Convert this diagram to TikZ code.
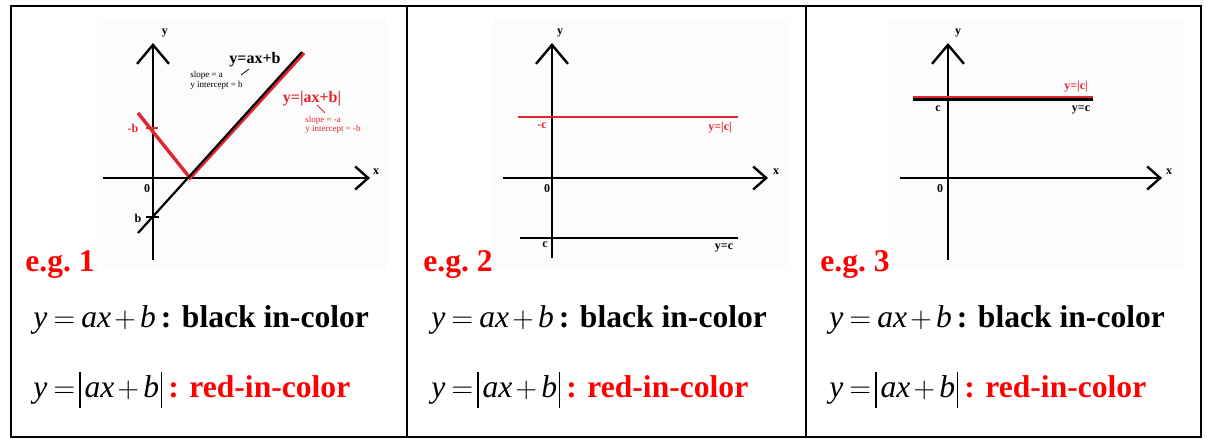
\documentclass[tikz,border=0pt]{standalone}
\usepackage{fontspec}
\setmainfont{Liberation Serif}
\usepackage{tikz}
\usetikzlibrary{arrows.meta,positioning}
\definecolor{plotred}{RGB}{226,38,48}
\newcommand\absbar{\rule[-5.5pt]{0.6pt}{18pt}}
\newcommand\lineeq{\textit{y}\hspace{3pt}$=$\hspace{3pt}\textit{ax}\hspace{1.5pt}$+$\hspace{2pt}\textit{b}\hspace{2.5pt}\textbf{: black in-color}}
\newcommand\abseq{\textit{y}\hspace{3pt}$=$\hspace{2pt}\absbar\hspace{2pt}\textit{ax}\hspace{1.5pt}$+$\hspace{2pt}\textit{b}\hspace{1pt}\absbar\hspace{3pt}\textbf{\color{red}: red-in-color}}

\begin{document}
\begin{tikzpicture}[
    x=0.5pt,y=-0.5pt,
    frame/.style={line width=1pt},
    xaxis/.style={line width=1.2pt,-{Straight Barb[length=6.5pt,width=11.5pt]}},
    yaxis/.style={line width=1.2pt,-{Straight Barb[length=9.5pt,width=16pt]}},
    lbl/.style={font=\fontsize{6}{7}\selectfont\bfseries,inner sep=0pt},
    tiny/.style={font=\fontsize{4.5}{5}\selectfont,inner sep=0pt,anchor=west},
    eg/.style={font=\fontsize{15.8}{18}\selectfont\bfseries,text=red,inner sep=0pt,anchor=base west},
    row/.style={font=\fontsize{15.8}{18}\selectfont,inner sep=0pt,anchor=base west}
]
\useasboundingbox (0,0) rectangle (1207,439);
% table
\draw[frame] (11,6) rectangle (1201,437);
\draw[frame] (407,6) -- (407,437);
\draw[frame] (806,6) -- (806,437);
\fill[black!1] (97,18) rectangle (387,270);
\fill[black!1] (493,18) rectangle (790,270);
\fill[black!1] (888,18) rectangle (1185,270);

% e.g. 1
\draw[xaxis] (103,178) -- (370,178);
\draw[yaxis] (153,260) -- (153,43);
\draw[plotred,line width=1.7pt] (138,113) -- (190,178) -- (304,53);
\draw[line width=1.1pt] (138,233) -- (302,52);
\draw[plotred,line width=0.8pt] (146,128) -- (158,128);
\draw[line width=0.8pt] (146,217) -- (159,217);
\node[lbl] (y1) at (165,33) {y};
\node[lbl] (x1) at (376,172) {x};
\node[lbl] (o1) at (147,189) {0};
\node[lbl] (b1) at (138,218) {b};
\node[lbl,text=plotred] (mb1) at (133,128) {-b};
\node[lbl,font=\fontsize{8}{9}\selectfont\bfseries] (lin1) at (255,60) {y=ax+b};
\node[tiny] (sl1) at (190,75) {slope = a};
\node[tiny] (yi1) at (190,85) {y intercept = b};
\draw[line width=0.4pt] (241,75) -- (249,69);
\node[lbl,font=\fontsize{8}{9}\selectfont\bfseries,text=plotred] (abs1) at (312,99) {y=|ax+b|};
\node[tiny,text=plotred] (sl2) at (305,120) {slope = -a};
\node[tiny,text=plotred] (yi2) at (305,129) {y intercept = -b};
\draw[plotred,line width=0.4pt] (317,105) -- (325,113);
\node[eg] (eg1) at (25,271) {e.g.\ 1};
\node[row] (r11) at (33,327) {\lineeq};
\node[row] (r12) at (33,397) {\abseq};

% e.g. 2
\draw[xaxis] (503,178) -- (768,178);
\draw[yaxis] (552,258) -- (552,43);
\draw[plotred,line width=1.1pt] (518,117) -- (738,117);
\draw[line width=1.1pt] (520,238) -- (738,238);
\node[lbl] (y2) at (560,33) {y};
\node[lbl] (x2) at (776,172) {x};
\node[lbl] (o2) at (547,189) {0};
\node[lbl,text=plotred] (mc2) at (542,126) {-c};
\node[lbl,text=plotred] (abs2) at (720,128) {y=|c|};
\node[lbl] (c2) at (545,245) {c};
\node[lbl] (lin2) at (724,248) {y=c};
\node[eg] (eg2) at (423,271) {e.g.\ 2};
\node[row] (r21) at (431,327) {\lineeq};
\node[row] (r22) at (431,397) {\abseq};

% e.g. 3
\draw[xaxis] (900,178) -- (1162,178);
\draw[yaxis] (948,260) -- (948,43);
\draw[line width=1.6pt] (913,99) -- (1093,99);
\draw[plotred,line width=0.8pt] (913,97) -- (1093,97);
\node[lbl] (y3) at (958,33) {y};
\node[lbl] (x3) at (1169,172) {x};
\node[lbl] (o3) at (940,189) {0};
\node[lbl] (c3) at (938,109) {c};
\node[lbl,text=plotred] (abs3) at (1076,87) {y=|c|};
\node[lbl] (lin3) at (1081,110) {y=c};
\node[eg] (eg3) at (820,271) {e.g.\ 3};
\node[row] (r31) at (829,327) {\lineeq};
\node[row] (r32) at (829,397) {\abseq};
\end{tikzpicture}
\end{document}
